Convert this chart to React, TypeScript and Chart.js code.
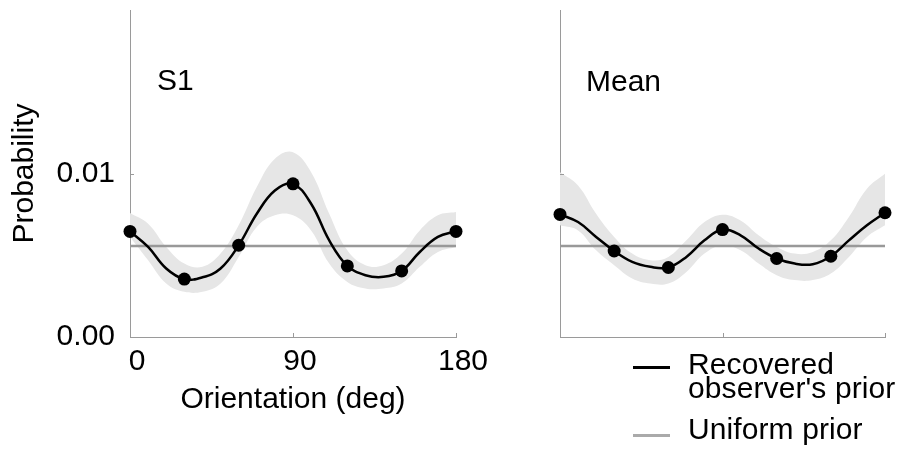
import React, { useEffect, useRef } from "react";
import { Chart, registerables } from "chart.js";

Chart.register(...registerables);

// ---- data ----
const ANGLES = [0, 10, 20, 30, 40, 50, 60, 70, 80, 90, 100, 110, 120, 130, 140, 150, 160, 170, 180];
const MARKER_ANGLES = [0, 30, 60, 90, 120, 150, 180];
const X_TICKS = [0, 90, 180];
const Y_TICKS = [0, 0.01];
const UNIFORM_X = [0, 180];
const UNIFORM_Y = [0.00556, 0.00556];

const S1_CURVE = [0.00646, 0.00551, 0.00419, 0.00354, 0.00365, 0.00419, 0.00561, 0.00754, 0.00896, 0.00937, 0.00815, 0.00591, 0.00435, 0.00378, 0.00368, 0.00404, 0.0052, 0.00612, 0.00646];
const S1_UPPER = [0.00758, 0.00693, 0.00551, 0.00449, 0.00429, 0.0051, 0.00683, 0.00917, 0.0109, 0.0113, 0.01008, 0.00754, 0.0053, 0.00439, 0.00439, 0.0051, 0.00652, 0.00744, 0.00764];
const S1_LOWER = [0.00612, 0.0047, 0.00327, 0.00276, 0.00276, 0.00327, 0.0049, 0.00673, 0.00744, 0.00744, 0.00652, 0.00449, 0.00337, 0.00297, 0.00297, 0.00327, 0.00429, 0.0052, 0.00551];
const S1_MARKERS = [0.00646, 0.00354, 0.00561, 0.00937, 0.00435, 0.00404, 0.00646];

const MEAN_CURVE = [0.0075, 0.00703, 0.00612, 0.00526, 0.00459, 0.00429, 0.00425, 0.0049, 0.00591, 0.00657, 0.00622, 0.00541, 0.0048, 0.00449, 0.00445, 0.00494, 0.00591, 0.00683, 0.0076];
const MEAN_UPPER = [0.01008, 0.00927, 0.00754, 0.00612, 0.0051, 0.0047, 0.0049, 0.00591, 0.00703, 0.00748, 0.00713, 0.00622, 0.00551, 0.0051, 0.0052, 0.00591, 0.00734, 0.00907, 0.00998];
const MEAN_LOWER = [0.00683, 0.00652, 0.0053, 0.00439, 0.00358, 0.00327, 0.00327, 0.00398, 0.0051, 0.00561, 0.0053, 0.00449, 0.00378, 0.00348, 0.00348, 0.00388, 0.0049, 0.00612, 0.00683];
const MEAN_MARKERS = [0.0075, 0.00526, 0.00425, 0.00657, 0.0048, 0.00494, 0.0076];

const AXIS = "#9a9a9a";
const BAND = "#e6e6e6";
const UNIFORM_COLOR = "#999999";
const FONT = "'Liberation Sans', Arial, sans-serif";
const FS = 30;

const pts = (xs: number[], ys: number[]) => xs.map((x, i) => ({ x, y: ys[i] }));

const inwardTicks = {
  id: "inwardTicks",
  afterDraw(chart: any) {
    const { ctx, chartArea, scales } = chart;
    ctx.save();
    ctx.strokeStyle = AXIS;
    ctx.lineWidth = 1;
    ctx.beginPath();
    for (const t of scales.x.ticks) {
      const px = Math.round(scales.x.getPixelForValue(t.value)) + 0.5;
      ctx.moveTo(px, chartArea.bottom);
      ctx.lineTo(px, chartArea.bottom - 4);
    }
    for (const t of scales.y.ticks) {
      const py = Math.round(scales.y.getPixelForValue(t.value)) + 0.5;
      ctx.moveTo(chartArea.left, py);
      ctx.lineTo(chartArea.left + 4, py);
    }
    ctx.stroke();
    ctx.restore();
  },
};

type PanelProps = {
  left: number;
  width: number;
  yWidth: number;
  padRight: number;
  showLabels: boolean;
  curve: number[];
  upper: number[];
  lower: number[];
  markers: number[];
};

function Panel(p: PanelProps) {
  const ref = useRef<HTMLCanvasElement | null>(null);
  useEffect(() => {
    if (!ref.current) return;
    Chart.defaults.font.family = FONT;
    Chart.defaults.color = "#000";
    const chart = new Chart(ref.current, {
      type: "line",
      data: {
        datasets: [
          {
            data: pts(MARKER_ANGLES, p.markers),
            showLine: false,
            pointRadius: 6.5,
            pointBackgroundColor: "#000",
            pointBorderColor: "#000",
            pointBorderWidth: 0,
            order: 0,
            clip: false,
          } as any,
          {
            data: pts(ANGLES, p.curve),
            borderColor: "#000",
            borderWidth: 2.5,
            pointRadius: 0,
            tension: 0.4,
            fill: false,
            order: 1,
          },
          {
            data: pts(UNIFORM_X, UNIFORM_Y),
            borderColor: UNIFORM_COLOR,
            borderWidth: 2.5,
            pointRadius: 0,
            fill: false,
            order: 2,
          },
          {
            data: pts(ANGLES, p.upper),
            borderWidth: 0,
            borderColor: "rgba(0,0,0,0)",
            backgroundColor: BAND,
            pointRadius: 0,
            tension: 0.4,
            fill: "+1",
            order: 3,
          },
          {
            data: pts(ANGLES, p.lower),
            borderWidth: 0,
            borderColor: "rgba(0,0,0,0)",
            pointRadius: 0,
            tension: 0.4,
            fill: false,
            order: 4,
          },
        ],
      },
      options: {
        animation: false,
        responsive: false,
        events: [],
        layout: { padding: { top: 10, right: p.padRight, left: 0, bottom: 0 } },
        plugins: { legend: { display: false }, tooltip: { enabled: false } },
        scales: {
          x: {
            type: "linear",
            min: 0,
            max: 180,
            grid: { display: false, drawTicks: false },
            border: { display: true, color: AXIS, width: 1 },
            ticks: {
              display: p.showLabels,
              padding: 7,
              labelOffset: 7,
              maxRotation: 0,
              color: "#000",
              font: { size: FS, family: FONT },
            },
            afterBuildTicks: (s: any) => {
              s.ticks = X_TICKS.map((v) => ({ value: v }));
            },
            afterFit: (s: any) => {
              s.height = 117;
              s.paddingLeft = 0;
              s.paddingRight = 0;
            },
            title: {
              display: p.showLabels,
              text: "Orientation (deg)",
              color: "#000",
              font: { size: FS, family: FONT },
              padding: { top: 0, bottom: 36 },
            },
          } as any,
          y: {
            type: "linear",
            min: 0,
            max: 0.02,
            grid: { display: false, drawTicks: false },
            border: { display: true, color: AXIS, width: 1 },
            ticks: {
              display: p.showLabels,
              padding: 15,
              color: "#000",
              font: { size: FS, family: FONT },
              callback: (v: any) => Number(v).toFixed(2),
            },
            afterBuildTicks: (s: any) => {
              s.ticks = Y_TICKS.map((v) => ({ value: v }));
            },
            afterFit: (s: any) => {
              s.width = p.yWidth;
              s.paddingTop = 0;
              s.paddingBottom = 0;
            },
            title: {
              display: p.showLabels,
              text: "Probability",
              color: "#000",
              font: { size: FS, family: FONT },
              padding: { top: 7, bottom: 0 },
            },
          } as any,
        },
      },
      plugins: [inwardTicks],
    });
    return () => chart.destroy();
  }, []);
  return (
    <canvas
      ref={ref}
      width={p.width}
      height={454}
      style={{ position: "absolute", left: p.left, top: 0, width: p.width, height: 454 }}
    />
  );
}

const textStyle: React.CSSProperties = {
  position: "absolute",
  fontFamily: FONT,
  fontSize: FS,
  lineHeight: 1,
  color: "#000",
  whiteSpace: "nowrap",
};

export default function App() {
  return (
    <div
      style={{
        position: "fixed",
        left: 0,
        top: 0,
        width: 905,
        height: 454,
        background: "#fff",
        overflow: "hidden",
      }}
    >
      <Panel left={0} width={500} yWidth={130} padRight={44} showLabels={true}
        curve={S1_CURVE} upper={S1_UPPER} lower={S1_LOWER} markers={S1_MARKERS} />
      <Panel left={540} width={365} yWidth={20} padRight={20} showLabels={false}
        curve={MEAN_CURVE} upper={MEAN_UPPER} lower={MEAN_LOWER} markers={MEAN_MARKERS} />
      <div style={{ ...textStyle, left: 157, top: 65 }}>S1</div>
      <div style={{ ...textStyle, left: 586, top: 66 }}>Mean</div>
      <div style={{ position: "absolute", left: 633, top: 366, width: 37, height: 3, background: "#000" }} />
      <div style={{ position: "absolute", left: 633, top: 434, width: 37, height: 3, background: "#aaaaaa" }} />
      <div style={{ ...textStyle, left: 688, top: 349, letterSpacing: 0.1 }}>Recovered</div>
      <div style={{ ...textStyle, left: 688, top: 373, letterSpacing: 0.1 }}>observer's prior</div>
      <div style={{ ...textStyle, left: 688, top: 414, letterSpacing: 0.1 }}>Uniform prior</div>
    </div>
  );
}
